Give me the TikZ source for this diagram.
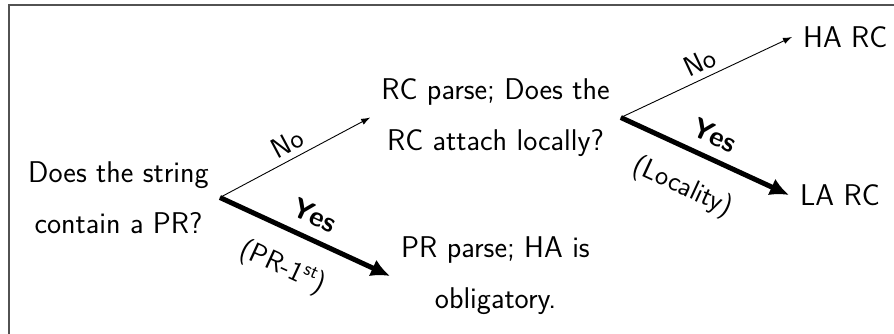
\documentclass[tikz,border=0pt]{standalone}
\usepackage{fix-cm}
\usepackage{fontspec}
\usetikzlibrary{arrows.meta}
\begin{document}
\begin{tikzpicture}[x=1pt,y=-1pt,
  txt/.style={font=\fontsize{30}{51}\selectfont\sffamily, align=center, inner xsep=11pt, inner ysep=0pt},
  lbl/.style={font=\fontsize{28}{32}\selectfont\sffamily, inner sep=0pt, sloped},
  thinarrow/.style={line width=0.9pt, -{Latex[length=9pt,width=6.5pt]}},
  thickarrow/.style={line width=5pt, -{Latex[length=19pt,width=18pt]}},
  framel/.style={draw=black!68, line width=2pt}]
\useasboundingbox (0,0) rectangle (894,333);
\draw[framel] (8.5,345) -- (8.5,4.5) -- (905,4.5);
\node[txt] (q1) at (118.5,197.5) {Does the string\\contain a PR?};
\node[txt] (q2) at (495.5,117.5) {RC parse; Does the\\RC attach locally?};
\node[txt] (pr) at (495.5,276) {PR parse; HA is\\obligatory.};
\node[txt, anchor=west] (ha) at (792,37) {HA RC};
\node[txt, anchor=west] (la) at (789,195) {LA RC};
\draw[thinarrow] (q1.east) -- node[lbl, pos=0.5, above=6pt] {No} (q2.west);
\draw[thickarrow] (q1.east) -- node[lbl, pos=0.5, above=11pt] {\bfseries Yes}
  node[lbl, pos=0.46, below=21pt] {(PR-1\textsuperscript{st})} (pr.west);
\draw[thinarrow] (q2.east) -- node[lbl, pos=0.5, above=6pt] {No} (ha.west);
\draw[thickarrow] (q2.east) -- node[lbl, pos=0.5, above=11pt] {\bfseries Yes}
  node[lbl, pos=0.46, below=21pt] {(Locality)} (la.west);
\end{tikzpicture}
\end{document}
